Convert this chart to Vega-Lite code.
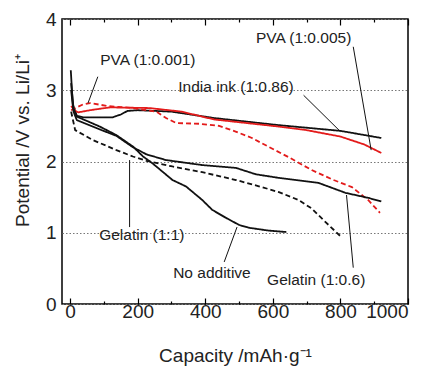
{
  "$schema": "https://vega.github.io/schema/vega-lite/v6.json",
  "width": 346,
  "height": 285,
  "autosize": {"type": "none"},
  "padding": {"left": 62, "top": 19, "right": 21, "bottom": 62},
  "background": "white",
  "config": {
    "view": {"stroke": "black", "strokeWidth": 1.5},
    "font": "Liberation Sans",
    "axis": {"labelFont": "Liberation Sans", "titleFont": "Liberation Sans", "labelColor": "#222", "titleColor": "#222", "titleFontWeight": "normal"}
  },
  "resolve": {"axis": {"x": "independent"}},
  "datasets": {
    "curves": [
      {"s": "India ink", "x": 2, "y": 3.28}, {"s": "India ink", "x": 8, "y": 2.8}, {"s": "India ink", "x": 20, "y": 2.64}, {"s": "India ink", "x": 40, "y": 2.62}, {"s": "India ink", "x": 126, "y": 2.62}, {"s": "India ink", "x": 150, "y": 2.66}, {"s": "India ink", "x": 170, "y": 2.71}, {"s": "India ink", "x": 200, "y": 2.72}, {"s": "India ink", "x": 300, "y": 2.7}, {"s": "India ink", "x": 426, "y": 2.61}, {"s": "India ink", "x": 618, "y": 2.51}, {"s": "India ink", "x": 800, "y": 2.43}, {"s": "India ink", "x": 921, "y": 2.33},
      {"s": "PVA 0.005", "x": 3, "y": 2.78}, {"s": "PVA 0.005", "x": 12, "y": 2.72}, {"s": "PVA 0.005", "x": 24, "y": 2.69}, {"s": "PVA 0.005", "x": 59, "y": 2.72}, {"s": "PVA 0.005", "x": 118, "y": 2.76}, {"s": "PVA 0.005", "x": 235, "y": 2.75}, {"s": "PVA 0.005", "x": 330, "y": 2.7}, {"s": "PVA 0.005", "x": 426, "y": 2.59}, {"s": "PVA 0.005", "x": 618, "y": 2.49}, {"s": "PVA 0.005", "x": 700, "y": 2.44}, {"s": "PVA 0.005", "x": 800, "y": 2.35}, {"s": "PVA 0.005", "x": 870, "y": 2.24}, {"s": "PVA 0.005", "x": 921, "y": 2.12},
      {"s": "PVA 0.001", "x": 3, "y": 2.72}, {"s": "PVA 0.001", "x": 20, "y": 2.76}, {"s": "PVA 0.001", "x": 38, "y": 2.8}, {"s": "PVA 0.001", "x": 59, "y": 2.82}, {"s": "PVA 0.001", "x": 109, "y": 2.78}, {"s": "PVA 0.001", "x": 186, "y": 2.75}, {"s": "PVA 0.001", "x": 255, "y": 2.7}, {"s": "PVA 0.001", "x": 284, "y": 2.61}, {"s": "PVA 0.001", "x": 314, "y": 2.54}, {"s": "PVA 0.001", "x": 382, "y": 2.53}, {"s": "PVA 0.001", "x": 441, "y": 2.5}, {"s": "PVA 0.001", "x": 490, "y": 2.42}, {"s": "PVA 0.001", "x": 538, "y": 2.33}, {"s": "PVA 0.001", "x": 590, "y": 2.2}, {"s": "PVA 0.001", "x": 647, "y": 2.06}, {"s": "PVA 0.001", "x": 715, "y": 1.88}, {"s": "PVA 0.001", "x": 780, "y": 1.74}, {"s": "PVA 0.001", "x": 834, "y": 1.64}, {"s": "PVA 0.001", "x": 882, "y": 1.46}, {"s": "PVA 0.001", "x": 917, "y": 1.28},
      {"s": "Gelatin 0.6", "x": 3, "y": 3.0}, {"s": "Gelatin 0.6", "x": 10, "y": 2.7}, {"s": "Gelatin 0.6", "x": 20, "y": 2.58}, {"s": "Gelatin 0.6", "x": 88, "y": 2.45}, {"s": "Gelatin 0.6", "x": 137, "y": 2.36}, {"s": "Gelatin 0.6", "x": 186, "y": 2.2}, {"s": "Gelatin 0.6", "x": 226, "y": 2.1}, {"s": "Gelatin 0.6", "x": 284, "y": 2.02}, {"s": "Gelatin 0.6", "x": 391, "y": 1.95}, {"s": "Gelatin 0.6", "x": 491, "y": 1.91}, {"s": "Gelatin 0.6", "x": 550, "y": 1.82}, {"s": "Gelatin 0.6", "x": 618, "y": 1.77}, {"s": "Gelatin 0.6", "x": 735, "y": 1.7}, {"s": "Gelatin 0.6", "x": 815, "y": 1.56}, {"s": "Gelatin 0.6", "x": 882, "y": 1.49}, {"s": "Gelatin 0.6", "x": 921, "y": 1.44},
      {"s": "No additive", "x": 3, "y": 3.1}, {"s": "No additive", "x": 10, "y": 2.75}, {"s": "No additive", "x": 20, "y": 2.63}, {"s": "No additive", "x": 88, "y": 2.49}, {"s": "No additive", "x": 137, "y": 2.37}, {"s": "No additive", "x": 186, "y": 2.21}, {"s": "No additive", "x": 216, "y": 2.07}, {"s": "No additive", "x": 245, "y": 1.97}, {"s": "No additive", "x": 303, "y": 1.74}, {"s": "No additive", "x": 343, "y": 1.65}, {"s": "No additive", "x": 391, "y": 1.46}, {"s": "No additive", "x": 421, "y": 1.32}, {"s": "No additive", "x": 461, "y": 1.21}, {"s": "No additive", "x": 500, "y": 1.11}, {"s": "No additive", "x": 529, "y": 1.07}, {"s": "No additive", "x": 588, "y": 1.03}, {"s": "No additive", "x": 640, "y": 1.01},
      {"s": "Gelatin 1", "x": 3, "y": 2.7}, {"s": "Gelatin 1", "x": 15, "y": 2.44}, {"s": "Gelatin 1", "x": 68, "y": 2.3}, {"s": "Gelatin 1", "x": 137, "y": 2.16}, {"s": "Gelatin 1", "x": 186, "y": 2.07}, {"s": "Gelatin 1", "x": 226, "y": 2.01}, {"s": "Gelatin 1", "x": 303, "y": 1.93}, {"s": "Gelatin 1", "x": 391, "y": 1.85}, {"s": "Gelatin 1", "x": 491, "y": 1.74}, {"s": "Gelatin 1", "x": 568, "y": 1.64}, {"s": "Gelatin 1", "x": 618, "y": 1.57}, {"s": "Gelatin 1", "x": 676, "y": 1.46}, {"s": "Gelatin 1", "x": 715, "y": 1.34}, {"s": "Gelatin 1", "x": 756, "y": 1.15}, {"s": "Gelatin 1", "x": 805, "y": 0.93}
    ],
    "pointers": [
      {"x": 838, "y": 3.61, "x2": 891, "y2": 2.16},
      {"x": 691, "y": 2.93, "x2": 800, "y2": 2.42},
      {"x": 82, "y": 3.19, "x2": 53, "y2": 2.82},
      {"x": 176, "y": 2.02, "x2": 176, "y2": 1.08},
      {"x": 456, "y": 0.59, "x2": 494, "y2": 1.08},
      {"x": 838, "y": 0.51, "x2": 818, "y2": 1.53}
    ],
    "labels": [
      {"x": 550, "y": 3.73, "t": "PVA (1:0.005)"},
      {"x": 320, "y": 3.05, "t": "India ink (1:0.86)"},
      {"x": 89, "y": 3.42, "t": "PVA (1:0.001)"},
      {"x": 86, "y": 0.97, "t": "Gelatin  (1:1)"},
      {"x": 305, "y": 0.44, "t": "No additive"},
      {"x": 583, "y": 0.34, "t": "Gelatin (1:0.6)"}
    ]
  },
  "layer": [
    {
      "data": {"name": "curves"},
      "mark": {"type": "line", "strokeWidth": 1.8},
      "encoding": {
        "x": {
          "field": "x", "type": "quantitative",
          "scale": {"domain": [-24, 1000], "nice": false, "zero": false},
          "axis": {
            "orient": "bottom",
            "values": [0, 100, 200, 300, 400, 500, 600, 700, 800, 900, 1000],
            "labelExpr": "datum.value % 200 === 0 ? datum.label : ''",
            "format": "d",
            "grid": false, "domain": false,
            "tickColor": "black", "tickWidth": 1.2,
            "tickSize": {"condition": {"test": "datum.value % 200 === 0", "value": -6}, "value": -3},
            "labelFontSize": 19, "labelPadding": 4,
            "title": "Capacity /mAh·g⁻¹", "titleFontSize": 19,
            "titleBaseline": "middle", "titleY": 51
          }
        },
        "y": {
          "field": "y", "type": "quantitative",
          "scale": {"domain": [0, 4], "nice": false},
          "axis": {
            "values": [0, 0.5, 1, 1.5, 2, 2.5, 3, 3.5, 4],
            "format": "d",
            "labelExpr": "datum.value % 1 === 0 ? datum.label : ''",
            "grid": true, "gridColor": "#777", "gridDash": [1.5, 2], "gridWidth": 1,
            "ticks": false, "domain": false,
            "labelFontSize": 19, "labelPadding": 6,
            "title": "Potential /V vs. Li/Li⁺", "titleFontSize": 19,
            "titleAngle": -90, "titleBaseline": "middle", "titleAlign": "center",
            "titleX": -40, "titleY": 121
          }
        },
        "color": {
          "field": "s", "type": "nominal", "legend": null,
          "scale": {"domain": ["India ink", "PVA 0.005", "PVA 0.001", "Gelatin 0.6", "No additive", "Gelatin 1"], "range": ["#111111", "#e31b1b", "#e31b1b", "#111111", "#111111", "#111111"]}
        },
        "strokeDash": {
          "field": "s", "type": "nominal", "legend": null,
          "scale": {"domain": ["India ink", "PVA 0.005", "PVA 0.001", "Gelatin 0.6", "No additive", "Gelatin 1"], "range": [[1, 0], [1, 0], [5, 3], [1, 0], [1, 0], [5, 3]]}
        }
      }
    },
    {
      "data": {"name": "pointers"},
      "mark": {"type": "rule", "color": "#111111", "strokeWidth": 1},
      "encoding": {
        "x": {
          "field": "x", "type": "quantitative",
          "axis": {
            "orient": "top",
            "values": [0, 100, 200, 300, 400, 500, 600, 700, 800, 900, 1000],
            "labels": false, "grid": false, "domain": false, "title": null,
            "tickColor": "black", "tickWidth": 1.2,
            "tickSize": {"condition": {"test": "datum.value % 200 === 0", "value": -6}, "value": -3}
          }
        },
        "y": {"field": "y", "type": "quantitative"},
        "x2": {"field": "x2"},
        "y2": {"field": "y2"}
      }
    },
    {
      "data": {"name": "labels"},
      "mark": {"type": "text", "align": "left", "baseline": "middle", "fontSize": 15.5, "color": "#222", "font": "Liberation Sans"},
      "encoding": {
        "x": {"field": "x", "type": "quantitative", "axis": null},
        "y": {"field": "y", "type": "quantitative"},
        "text": {"field": "t"}
      }
    }
  ]
}
